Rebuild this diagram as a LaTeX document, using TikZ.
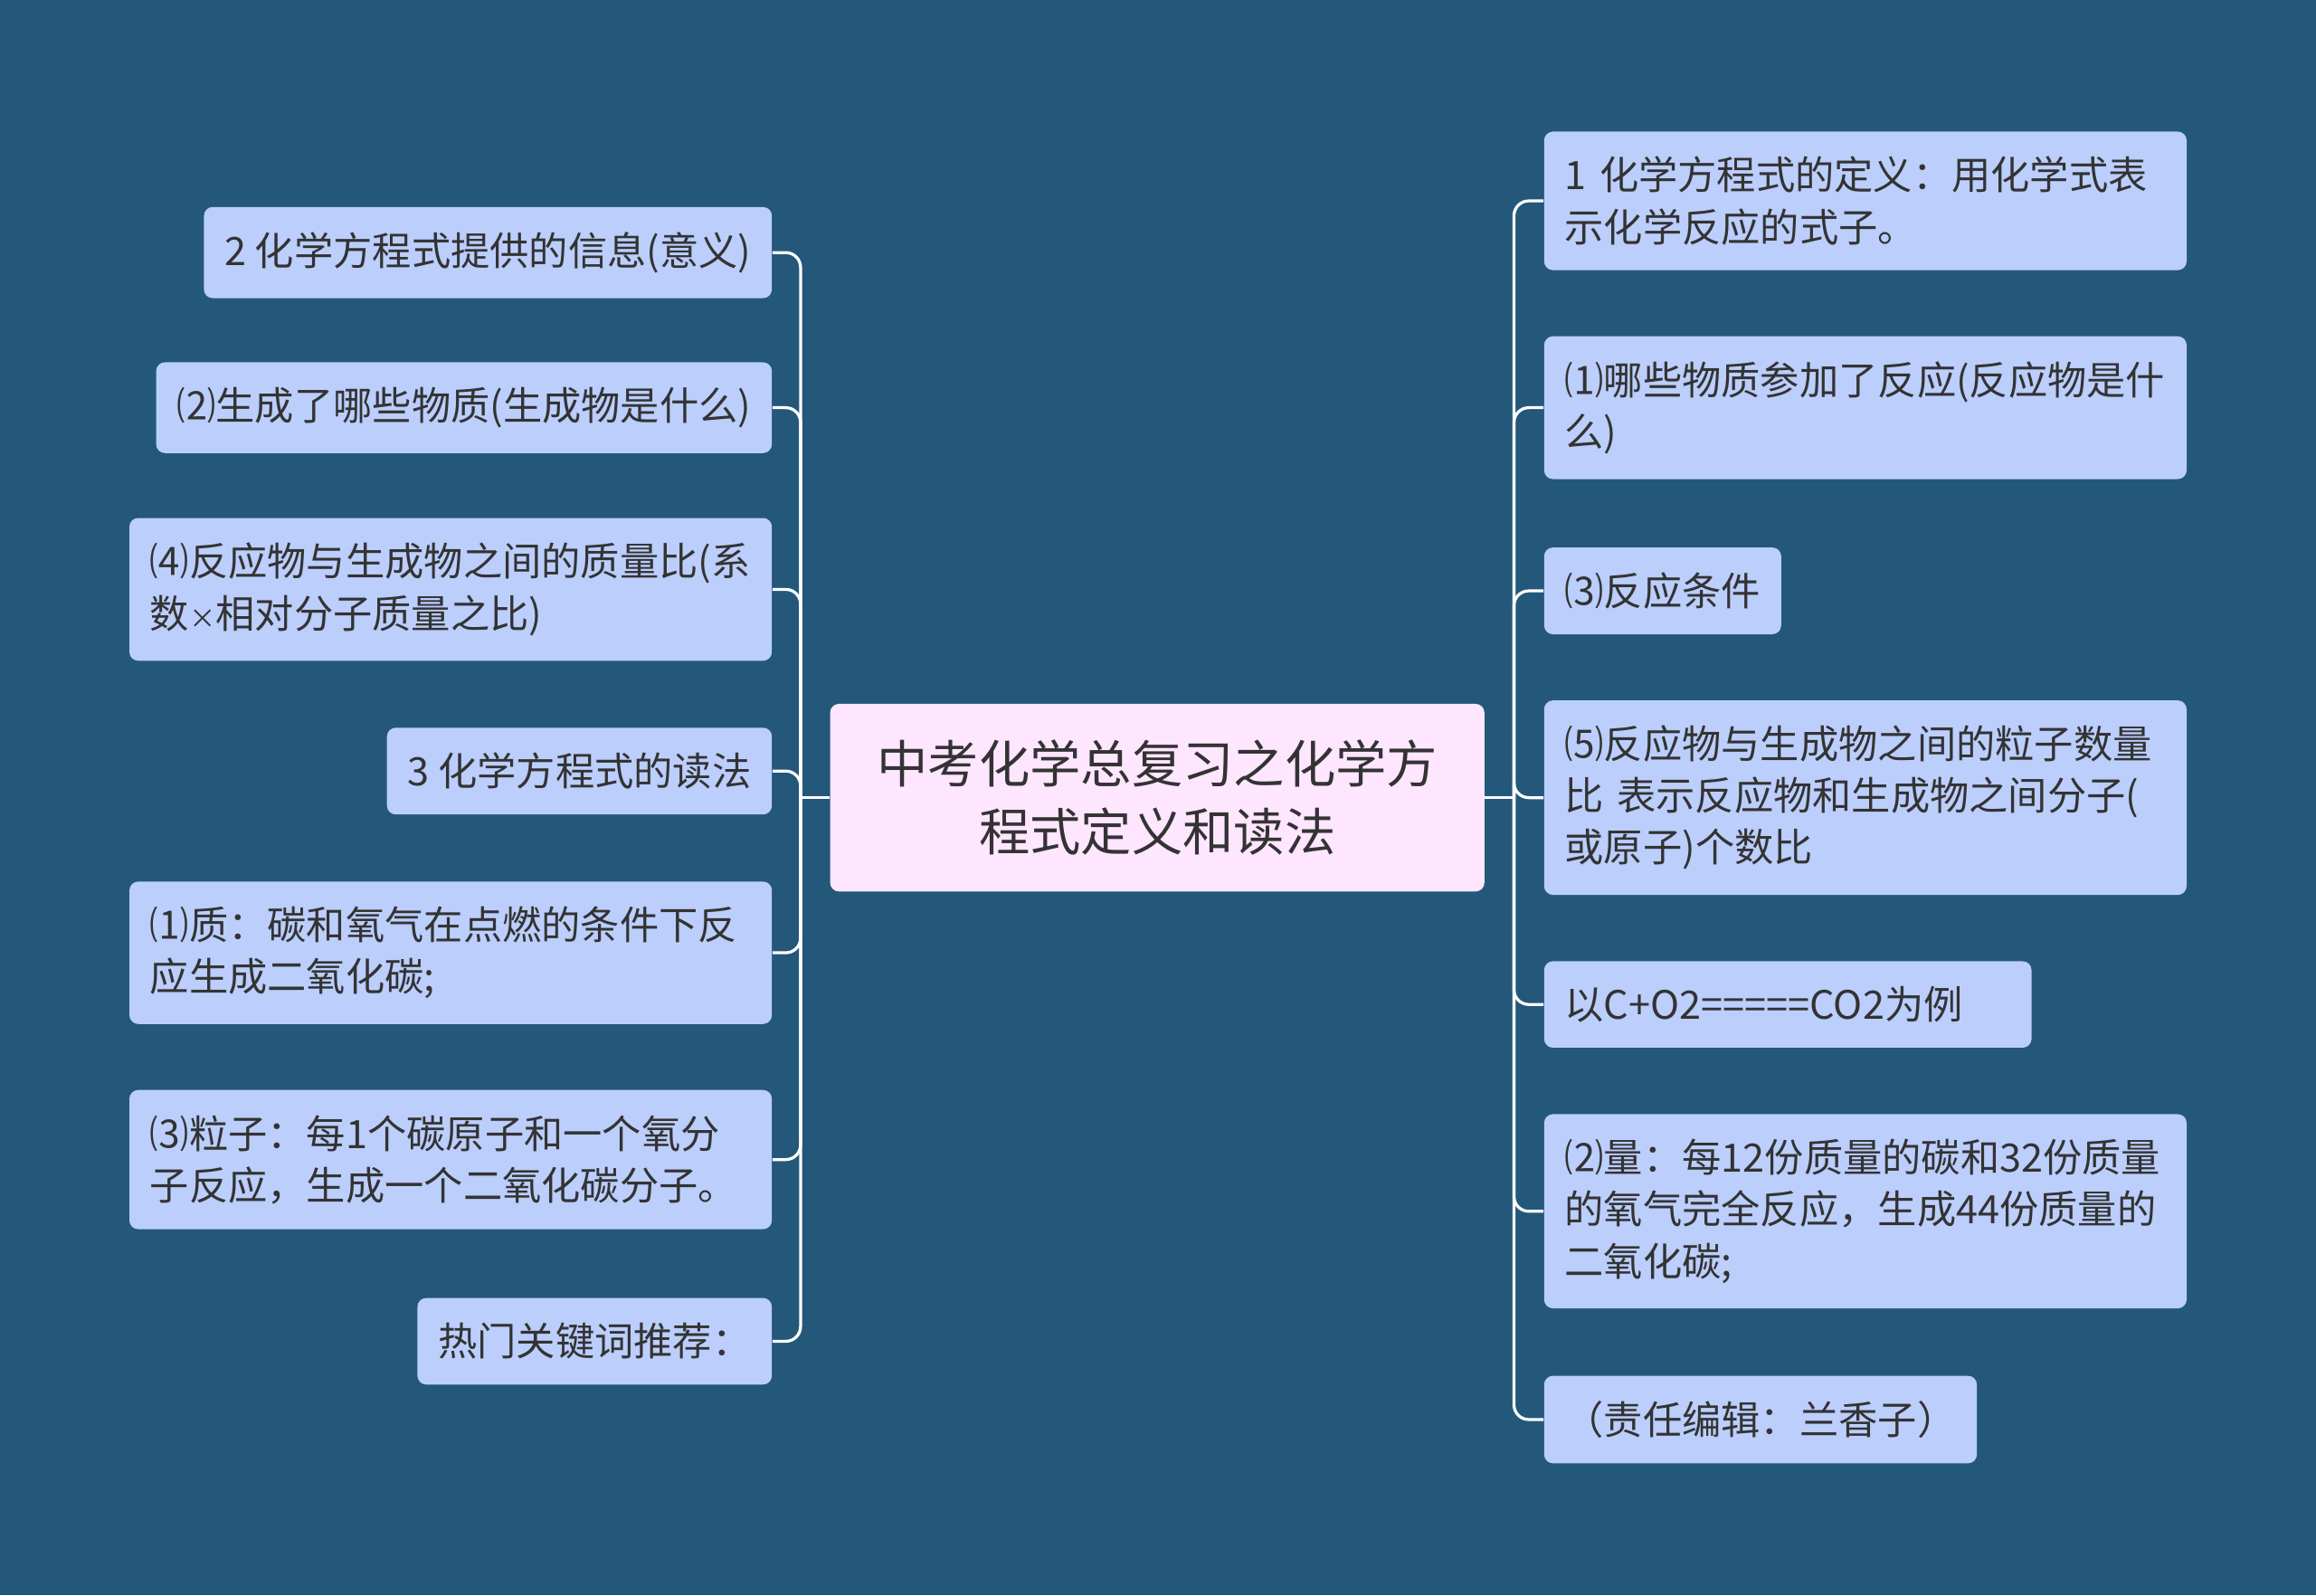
\documentclass[tikz,border=0pt]{standalone}
\usepackage{fontspec}
\setmainfont{Noto Sans CJK SC}
\usetikzlibrary{positioning}

\definecolor{bgblue}{RGB}{35,88,122}
\definecolor{boxblue}{RGB}{187,206,252}
\definecolor{rootpink}{RGB}{255,230,255}
\definecolor{txtgray}{RGB}{51,51,51}

\tikzset{
  topic/.style={rounded corners=3pt, fill=boxblue, text=txtgray, inner xsep=7pt,
    inner ysep=8.5pt, align=left, font=\fontsize{13.25}{17.5}\selectfont},
  widetopic/.style={topic, text width=203.5pt},
  root/.style={rounded corners=3pt, fill=rootpink, text=txtgray, align=center,
    minimum width=221.5pt, minimum height=63.5pt, font=\fontsize{17.25}{23}\selectfont},
  link/.style={white, line width=1pt, rounded corners=5pt}
}

\begin{document}
\begin{tikzpicture}[x=0.5pt, y=-0.5pt]
        % Achtergrond
        \fill[bgblue] (0,0) rectangle (1568,1080);
        \useasboundingbox (0,0) rectangle (1568,1080);

        % Midden
        \node[root] (root) at (783.5,540) {中考化学总复习之化学方\\程式定义和读法};
        \coordinate (lj) at (542,540);
        \coordinate (rj) at (1025,540);

        % Links
        \node[topic, anchor=east] (l1) at (523,171) {2 化学方程式提供的信息(意义)};
        \node[topic, anchor=east] (l2) at (523,276) {⑵生成了哪些物质(生成物是什么)};
        \node[widetopic, anchor=east] (l3) at (523,399) {⑷反应物与生成物之间的质量比(系\\数{\small ×}相对分子质量之比)};
        \node[topic, anchor=east] (l4) at (523,522) {3 化学方程式的读法};
        \node[widetopic, anchor=east] (l5) at (523,645) {⑴质：碳和氧气在点燃的条件下反\\应生成二氧化碳;};
        \node[widetopic, anchor=east] (l6) at (523,785) {⑶粒子：每1个碳原子和一个氧分\\子反应，生成一个二氧化碳分子。};
        \node[topic, anchor=east] (l7) at (523,908) {热门关键词推荐：};

        % Rechts
        \node[widetopic, anchor=west] (r1) at (1045,136) {1 化学方程式的定义：用化学式表\\示化学反应的式子。};
        \node[widetopic, anchor=west] (r2) at (1045,276) {⑴哪些物质参加了反应(反应物是什\\么)};
        \node[topic, anchor=west] (r3) at (1045,400) {⑶反应条件};
        \node[widetopic, anchor=west] (r4) at (1045,540) {⑸反应物与生成物之间的粒子数量\\比 表示反应物和生成物之间分子(\\或原子)个数比};
        \node[topic, text width=151pt, anchor=west] (r5) at (1045,680) {以C+O2=====CO2为例};
        \node[widetopic, anchor=west] (r6) at (1045,820) {⑵量：每12份质量的碳和32份质量\\的氧气完全反应，生成44份质量的\\二氧化碳;};
        \node[topic, anchor=west] (r7) at (1045,961) {（责任编辑：兰香子）};

        % Verbindingen
        \draw[link] (root.west) -- (lj);
        \draw[link] (root.east) -- (rj);
        \foreach \n in {l1,l2,l3,l4,l5,l6,l7}
            \draw[link] (lj) |- (\n.east);
        \foreach \n in {r1,r2,r3,r4,r5,r6,r7}
            \draw[link] (rj) |- (\n.west);

    \end{tikzpicture}
\end{document}
